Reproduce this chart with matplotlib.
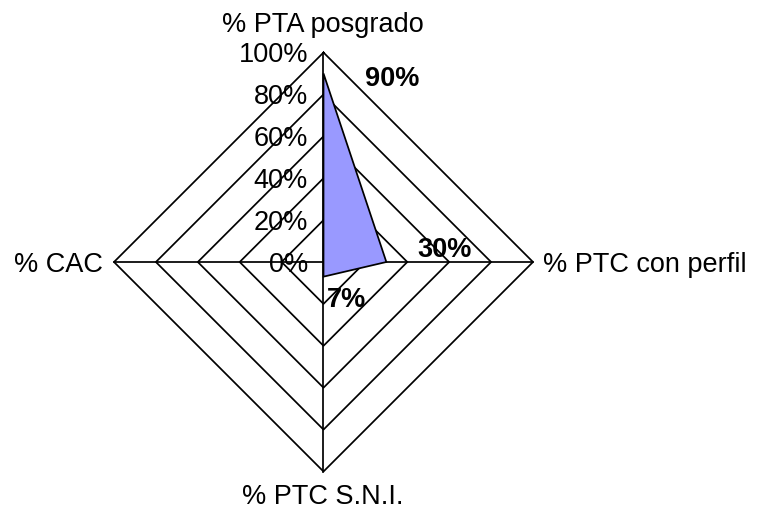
import numpy as np
import matplotlib
matplotlib.use("Agg")
import matplotlib.pyplot as plt

categories = ["% PTA posgrado", "% PTC con perfil", "% PTC S.N.I.", "% CAC"]
values = [0.90, 0.30, 0.07, 0.0]
value_labels = ["90%", "30%", "7%", ""]
ring_levels = [0.2, 0.4, 0.6, 0.8, 1.0]
tick_levels = [0.0, 0.2, 0.4, 0.6, 0.8, 1.0]
tick_labels = ["0%", "20%", "40%", "60%", "80%", "100%"]

plt.rcParams['font.family'] = ['Liberation Sans', 'DejaVu Sans']

W, H = 759, 512
CX, CY, R = 323.5, 262.0, 209.5

fig = plt.figure(figsize=(W / 100, H / 100), dpi=100)
ax = fig.add_axes([0, 0, 1, 1])
ax.set_xlim(-CX / R, (W - CX) / R)
ax.set_ylim(-(H - CY) / R, CY / R)
ax.axis("off")


def px(x, y):
    return (x - CX) / R, (CY - y) / R


n = len(categories)
angles = np.pi / 2 - np.arange(n) * 2 * np.pi / n
ux, uy = np.cos(angles), np.sin(angles)

# rings
for lv in ring_levels:
    xs = np.append(ux * lv, ux[0] * lv)
    ys = np.append(uy * lv, uy[0] * lv)
    ax.plot(xs, ys, color="black", lw=1.25, zorder=1)
# spokes
for i in range(n):
    ax.plot([0, ux[i]], [0, uy[i]], color="black", lw=1.25, zorder=1)

# data polygon
v = np.array(values)
ax.fill(ux * v, uy * v, facecolor="#9999FF", edgecolor="black", lw=1.25, zorder=2)

# tick labels (right-aligned left of the top spoke)
for lv, lab in zip(tick_levels, tick_labels):
    x, y = px(308, CY - lv * R + 3)
    ax.text(x, y, lab, ha="right", va="center", fontsize=19.5, zorder=3)

# category labels
cat_pos = [(323, 32, "center"), (543, 272, "left"), (323, 504, "center"), (103, 272, "right")]
for lab, (x, y, ha) in zip(categories, cat_pos):
    xx, yy = px(x, y)
    ax.text(xx, yy, lab, ha=ha, va="baseline", fontsize=19.5)

# value labels
val_pos = [(392, 79), (445, 250), (347, 300), (0, 0)]
for lab, (x, y) in zip(value_labels, val_pos):
    if lab:
        xx, yy = px(x, y)
        ax.text(xx, yy, lab, ha="center", va="center", fontsize=19.5,
                fontweight="bold", zorder=4)

fig.savefig("out.png", dpi=100)
